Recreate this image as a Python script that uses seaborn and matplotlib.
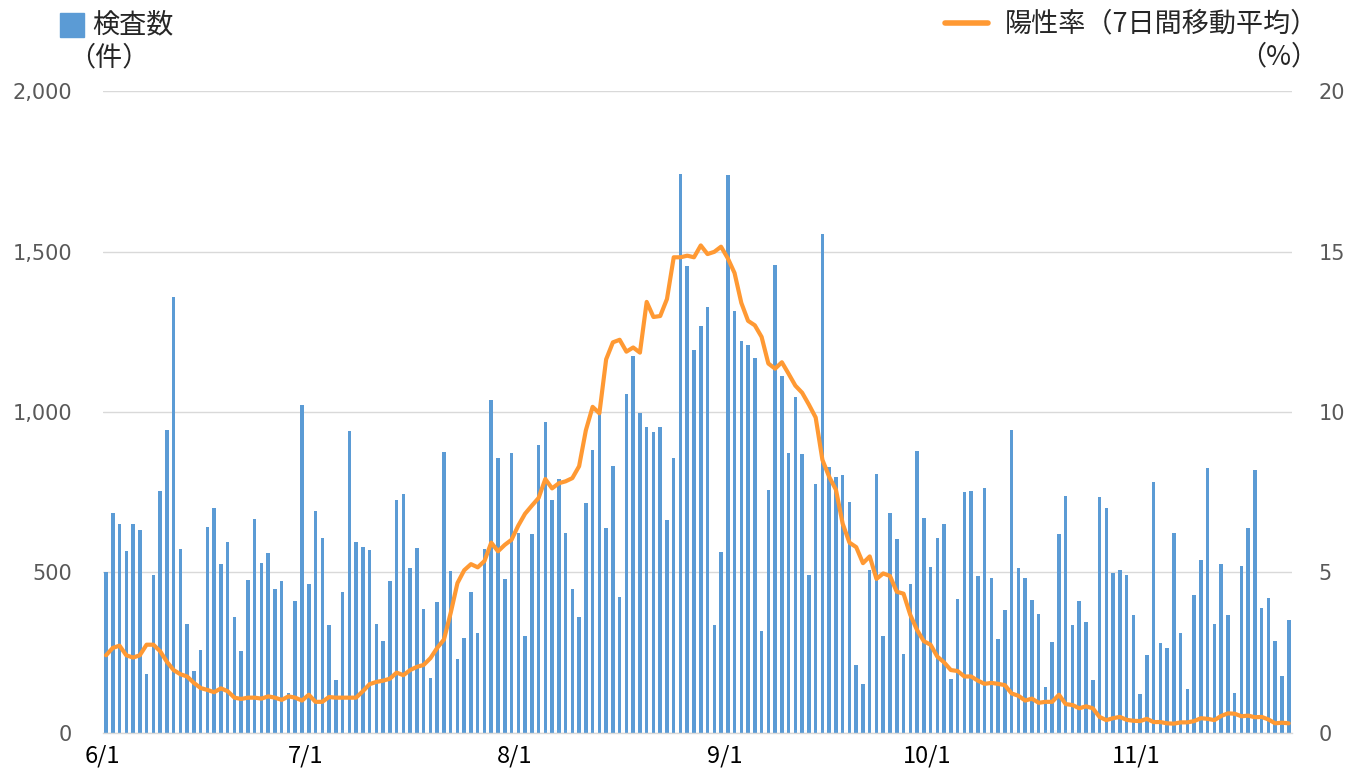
import matplotlib.pyplot as plt
import seaborn as sns
import pandas as pd
import numpy as np
from matplotlib.patches import Rectangle
from matplotlib.lines import Line2D

sns.set_theme(style="white")
plt.rcParams['font.family'] = ['DejaVu Sans', 'Noto Sans CJK JP']

days = pd.date_range('2020-06-01', '2020-11-23')

# daily number of tests (件)
tests = [
    # June
    500, 685, 650, 566, 651, 631, 185, 493, 753, 943, 1357, 574, 339, 194, 259,
    642, 700, 525, 594, 360, 255, 476, 668, 530, 561, 448, 474, 124, 411, 1022,
    # July
    463, 690, 608, 335, 165, 439, 940, 595, 578, 569, 341, 286, 472, 726, 745,
    513, 575, 386, 171, 407, 874, 505, 229, 295, 440, 311, 574, 1038, 857, 481, 873,
    # August
    622, 303, 619, 896, 970, 725, 791, 622, 450, 361, 716, 882, 993, 639, 832,
    425, 1056, 1176, 997, 954, 937, 954, 665, 857, 1741, 1456, 1193, 1267, 1327, 335, 564,
    # September
    1737, 1314, 1221, 1210, 1167, 317, 758, 1459, 1112, 872, 1046, 868, 492, 776, 1556,
    828, 796, 804, 721, 212, 152, 509, 807, 302, 685, 603, 245, 463, 877, 671,
    # October
    517, 608, 650, 167, 417, 750, 753, 488, 762, 484, 294, 382, 943, 513, 484,
    413, 372, 143, 283, 620, 737, 335, 410, 345, 165, 734, 701, 497, 508, 492, 366,
    # November
    120, 243, 782, 280, 266, 622, 312, 136, 429, 538, 827, 341, 525, 368, 123,
    519, 638, 819, 390, 421, 288, 176, 352,
]

# positive rate, 7-day moving average (%)
rate = [
    # June
    2.42, 2.65, 2.72, 2.42, 2.35, 2.42, 2.75, 2.75, 2.55, 2.22, 1.96, 1.83, 1.76, 1.56, 1.40,
    1.34, 1.27, 1.39, 1.30, 1.10, 1.06, 1.10, 1.10, 1.07, 1.14, 1.10, 1.03, 1.14, 1.10, 1.01,
    # July
    1.19, 0.97, 0.97, 1.12, 1.10, 1.10, 1.10, 1.10, 1.30, 1.52, 1.59, 1.63, 1.69, 1.88, 1.80,
    1.96, 2.06, 2.12, 2.33, 2.65, 2.91, 3.74, 4.67, 5.07, 5.26, 5.16, 5.36, 5.93, 5.66, 5.86, 6.02,
    # August
    6.46, 6.83, 7.08, 7.32, 7.91, 7.62, 7.78, 7.84, 7.94, 8.31, 9.43, 10.16, 9.96, 11.64, 12.17,
    12.25, 11.88, 12.01, 11.85, 13.43, 12.96, 12.99, 13.52, 14.82, 14.82, 14.87, 14.82, 15.19, 14.92, 14.99, 15.15,
    # September
    14.79, 14.33, 13.40, 12.84, 12.70, 12.34, 11.51, 11.35, 11.55, 11.19, 10.82, 10.60, 10.23, 9.83, 8.51,
    7.98, 7.58, 6.52, 5.93, 5.79, 5.29, 5.50, 4.80, 4.97, 4.89, 4.40, 4.34, 3.68, 3.21, 2.86,
    # October
    2.75, 2.38, 2.20, 1.96, 1.93, 1.76, 1.76, 1.63, 1.53, 1.56, 1.53, 1.49, 1.23, 1.16, 1.01,
    1.07, 0.94, 0.97, 0.97, 1.19, 0.90, 0.87, 0.77, 0.83, 0.77, 0.50, 0.40, 0.46, 0.50, 0.41, 0.38,
    # November
    0.37, 0.44, 0.34, 0.34, 0.30, 0.29, 0.33, 0.33, 0.37, 0.46, 0.44, 0.40, 0.53, 0.61, 0.60,
    0.52, 0.54, 0.49, 0.50, 0.42, 0.30, 0.32, 0.30,
]

month_labels = ['6/1', '7/1', '8/1', '9/1', '10/1', '11/1']
left_ticks = [0, 500, 1000, 1500, 2000]
right_ticks = [0, 5, 10, 15, 20]

BLUE = '#5B9BD5'
ORANGE = '#FF9933'
GRID = '#D9D9D9'
TICKCOL = '#595959'

df = pd.DataFrame({'day': np.arange(len(days)), 'tests': tests, 'rate': rate})

fig = plt.figure(figsize=(13.63, 7.8), dpi=100)
ax = fig.add_axes([0.0753, 0.0603, 0.8727, 0.823])

sns.barplot(data=df, x='day', y='tests', color=BLUE, saturation=1,
            width=0.52, linewidth=0, ax=ax)
ax.set_xlim(-0.5, len(days) - 0.5)
ax.set_ylim(0, 2000)
ax.set_axisbelow(True)
ax.yaxis.grid(True, color=GRID, lw=1)
ax.xaxis.grid(False)

month_pos = [i - 0.5 for i, d in enumerate(days) if d.day == 1]
ax.set_xticks(month_pos)
ax.set_xticklabels(month_labels, fontsize=17, color='black',
                   family=['Noto Sans CJK JP', 'DejaVu Sans'])
ax.tick_params(axis='x', length=6, width=1, color=GRID, pad=2, direction='out')
ax.set_yticks(left_ticks)
ax.set_yticklabels([f'{v:,}' for v in left_ticks])
ax.tick_params(axis='y', length=0, pad=22, labelsize=15, labelcolor=TICKCOL)
ax.set_xlabel('')
ax.set_ylabel('')
for s in ['top', 'left', 'right']:
    ax.spines[s].set_visible(False)
ax.spines['bottom'].set_color(GRID)
ax.spines['bottom'].set_linewidth(1)

ax2 = ax.twinx()
sns.lineplot(data=df, x='day', y='rate', color=ORANGE, lw=3, ax=ax2)
ax2.set_ylim(0, 20)
ax2.set_yticks(right_ticks)
ax2.tick_params(axis='y', length=0, pad=19, labelsize=15, labelcolor=TICKCOL)
ax2.set_ylabel('')
for s in ['top', 'left', 'right', 'bottom']:
    ax2.spines[s].set_visible(False)
ax2.grid(False)

W, H = 1363, 780
cjk = ['Noto Sans CJK JP', 'DejaVu Sans']
fig.patches.append(Rectangle((60 / W, 1 - 37 / H), 24 / W, 24 / H,
                             transform=fig.transFigure, color=BLUE))
fig.text(92 / W, 1 - 25 / H, '検査数', fontsize=19.5, family=cjk, va='center', ha='left')
fig.text(68 / W, 1 - 58 / H, '（件）', fontsize=19.5, family=cjk, va='center', ha='left')

fig.lines.append(Line2D([945 / W, 988 / W], [1 - 23 / H, 1 - 23 / H],
                        transform=fig.transFigure, color=ORANGE, lw=4))
fig.text(1318 / W, 1 - 24 / H, '陽性率（7日間移動平均）', fontsize=19.5, family=cjk,
         va='center', ha='right')
fig.text(1318 / W, 1 - 57 / H, '（%）', fontsize=19.5, family=cjk, va='center', ha='right')

fig.savefig('out.png', dpi=100, facecolor='white')
